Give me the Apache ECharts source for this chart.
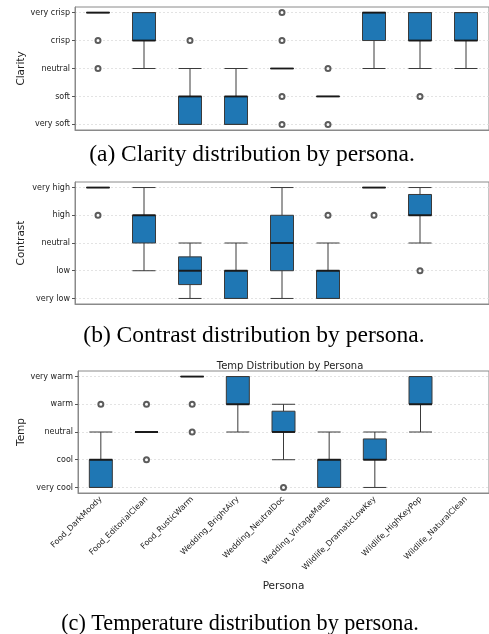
<!DOCTYPE html>
<html>
<head>
<meta charset="utf-8">
<script src="https://cdn.jsdelivr.net/npm/echarts@6/dist/echarts.min.js"></script>
<style>
  html, body { margin: 0; padding: 0; background: #fff; }
  #chart { width: 489px; height: 634px; }
</style>
</head>
<body>
<div id="chart"></div>
<script>
// persona categories
const personas = ['Food_DarkMoody', 'Food_EditorialClean', 'Food_RusticWarm', 'Wedding_BrightAiry',
  'Wedding_NeutralDoc', 'Wedding_VintageMatte', 'Wildlife_DramaticLowKey', 'Wildlife_HighKeyPop', 'Wildlife_NaturalClean']

// tick labels
const clarityLevels = ['very soft', 'soft', 'neutral', 'crisp', 'very crisp']
const contrastLevels = ['very low', 'low', 'neutral', 'high', 'very high']
const tempLevels = ['very cool', 'cool', 'neutral', 'warm', 'very warm']

// boxes: [low whisker, Q1, median, Q3, high whisker]
const clarityBoxes = [[4, 4, 4, 4, 4], [2, 3, 3, 4, 4], [0, 0, 1, 1, 2], [0, 0, 1, 1, 2], [2, 2, 2, 2, 2],
  [1, 1, 1, 1, 1], [2, 3, 4, 4, 4], [2, 3, 3, 4, 4], [2, 3, 3, 4, 4]]
const contrastBoxes = [[4, 4, 4, 4, 4], [1, 2, 3, 3, 4], [0, 0.5, 1, 1.5, 2], [0, 0, 1, 1, 2], [0, 1, 2, 3, 4],
  [0, 0, 1, 1, 2], [4, 4, 4, 4, 4], [2, 3, 3, 3.75, 4], '-']
const tempBoxes = [[0, 0, 1, 1, 2], [2, 2, 2, 2, 2], [4, 4, 4, 4, 4], [2, 3, 3, 4, 4], [1, 2, 2, 2.75, 3],
  [0, 0, 1, 1, 2], [0, 1, 1, 1.75, 2], [2, 3, 3, 4, 4], '-']

// outliers: [persona index, value]
const clarityOutliers = [[0, 3], [0, 2], [2, 3], [4, 4], [4, 3], [4, 1], [4, 0], [5, 2], [5, 0], [7, 1]]
const contrastOutliers = [[0, 3], [5, 3], [6, 3], [7, 1]]
const tempOutliers = [[0, 3], [1, 3], [1, 1], [2, 3], [2, 2], [4, 0]]

const chart = echarts.init(document.getElementById('chart'))
const sans = 'DejaVu Sans'
const ticks = [0, 1, 2, 3, 4]

// 面板布局
const panels = [
  { name: 'Clarity', levels: clarityLevels, boxes: clarityBoxes, outliers: clarityOutliers, left: 75, top: 7, width: 418, height: 123 },
  { name: 'Contrast', levels: contrastLevels, boxes: contrastBoxes, outliers: contrastOutliers, left: 75, top: 182, width: 418, height: 122 },
  { name: 'Temp', levels: tempLevels, boxes: tempBoxes, outliers: tempOutliers, left: 78, top: 371, width: 414, height: 122 }
]

const grid = panels.map(p => ({
  left: p.left, top: p.top, width: p.width, height: p.height,
  show: true, borderColor: '#8a8a8a', borderWidth: 1, backgroundColor: 'transparent'
}))

const xAxis = panels.map((p, i) => ({
  type: 'category',
  gridIndex: i,
  data: personas,
  boundaryGap: true,
  axisLine: { onZero: false, lineStyle: { color: '#8a8a8a' } },
  axisTick: { alignWithLabel: true, length: 3, lineStyle: { color: '#555' } },
  axisLabel: i === 2
    ? { show: true, rotate: 45, interval: 0, fontFamily: sans, fontSize: 8, color: '#222', margin: 5 }
    : { show: false },
  name: i === 2 ? 'Persona' : '',
  nameLocation: 'middle',
  nameGap: 88,
  nameMoveOverlap: false,
  nameTextStyle: { fontFamily: sans, fontSize: 10.5, color: '#222' }
}))

const yAxis = panels.map((p, i) => ({
  type: 'value',
  gridIndex: i,
  min: -0.2,
  max: 4.2,
  axisLine: { show: true, lineStyle: { color: '#8a8a8a' } },
  axisTick: { show: true, customValues: ticks, length: 3, lineStyle: { color: '#555' } },
  axisLabel: {
    customValues: ticks, fontFamily: sans, fontSize: 8, color: '#222', margin: 5,
    formatter: v => p.levels[Math.round(v)]
  },
  splitLine: { show: true, lineStyle: { color: '#dcdcdc', type: [2, 2], width: 0.8 } },
  name: p.name,
  nameLocation: 'middle',
  nameRotate: 90,
  nameGap: p.left - 21,
  nameMoveOverlap: false,
  nameTextStyle: { fontFamily: sans, fontSize: 10.5, color: '#222', verticalAlign: 'middle' }
}))

const series = []
panels.forEach((p, i) => {
  series.push({
    type: 'boxplot',
    xAxisIndex: i, yAxisIndex: i,
    data: p.boxes,
    boxWidth: [23, 23],
    itemStyle: { color: '#1f77b4', borderColor: '#3a3a3a', borderWidth: 1 },
    z: 2
  })
  // 中位线
  series.push({
    type: 'scatter',
    xAxisIndex: i, yAxisIndex: i,
    data: p.boxes.map((b, k) => b === '-' ? [k, '-'] : [k, b[2]]),
    symbol: 'rect',
    symbolSize: [23, 2],
    itemStyle: { color: '#111' },
    silent: true,
    z: 3
  })
  // 离群点
  series.push({
    type: 'scatter',
    xAxisIndex: i, yAxisIndex: i,
    data: p.outliers,
    symbol: 'emptyCircle',
    symbolSize: 5,
    itemStyle: { color: '#333', borderColor: '#333', borderWidth: 0.8 },
    z: 3
  })
})

const captions = [
  { text: '(a) Clarity distribution by persona.', x: 252, y: 155, size: 23.5 },
  { text: '(b) Contrast distribution by persona.', x: 254, y: 336, size: 23.5 },
  { text: '(c) Temperature distribution by persona.', x: 240, y: 624, size: 22.2 }
]

chart.setOption({
  animation: false,
  title: {
    text: 'Temp Distribution by Persona',
    left: 285, top: 356, textAlign: 'center',
    textStyle: { fontFamily: sans, fontSize: 10, fontWeight: 'normal', color: '#222' }
  },
  grid,
  xAxis,
  yAxis,
  series,
  graphic: captions.map(c => ({
    type: 'text',
    x: c.x, y: c.y,
    style: {
      text: c.text, fill: '#000', align: 'center', verticalAlign: 'middle',
      font: c.size + 'px "Liberation Serif"'
    }
  }))
})
</script>
</body>
</html>
